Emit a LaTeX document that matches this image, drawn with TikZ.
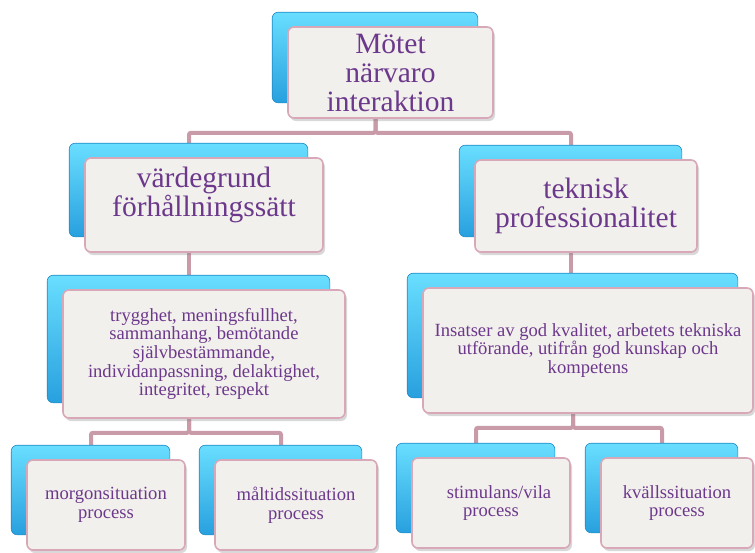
\documentclass[tikz,border=0pt]{standalone}
\usepackage{fontspec}
\setmainfont{Liberation Serif}
\newfontfamily\boxface{Liberation Serif}
\usepackage{tikz}
\usetikzlibrary{calc, positioning, shadows, backgrounds}
\definecolor{txtpurple}{RGB}{108,56,140}
\definecolor{boxfill}{RGB}{242,240,236}
\definecolor{boxline}{RGB}{216,168,185}
\definecolor{linkpink}{RGB}{201,154,168}
\definecolor{bluetop}{RGB}{105,222,255}
\definecolor{bluemid}{RGB}{60,194,246}
\definecolor{bluebot}{RGB}{40,160,222}
\definecolor{blueedge}{RGB}{32,140,200}
\tikzstyle{link} = [draw=linkpink, line width=4pt, rounded corners=2pt]

\begin{document}
\begin{tikzpicture}[x=1pt,y=1pt,
item/.style={rectangle,rounded corners=6pt,draw=boxline,line width=1.6pt,fill=boxfill,
 text=txtpurple,align=center,inner sep=2pt,
 drop shadow={opacity=0.3,shadow xshift=2pt,shadow yshift=-3pt}},
big/.style={item,font=\boxface\fontsize{29.5}{29}\selectfont},
small/.style={item,font=\boxface\fontsize{18.6}{18.6}\selectfont},
back/.style={rounded corners=6pt,draw=blueedge,line width=0.6pt,
 top color=bluetop,middle color=bluemid,bottom color=bluebot}]
 \useasboundingbox (0,0) rectangle (755,-552);
 % top
 \node[big,minimum width=205pt,minimum height=91pt] (T) at (390.5,-72.5) {Mötet\\närvaro\\interaktion};
 % second row
 \node[big,minimum width=238pt,minimum height=94pt,text depth=26pt] (L1) at (204,-205) {värdegrund\\förhållningssätt};
 \node[big,minimum width=222pt,minimum height=92pt] (R1) at (586,-206) {teknisk\\professionalitet};
 % third row
 \node[small,minimum width=282pt,minimum height=128pt] (L2) at (204,-354)
 {trygghet, meningsfullhet,\\sammanhang, bemötande\\självbestämmande,\\individanpassning, delaktighet,\\integritet, respekt};
 \node[small,minimum width=330pt,minimum height=125pt] (R2) at (588,-350.5)
 {Insatser av god kvalitet, arbetets tekniska\\utförande, utifrån god kunskap och\\kompetens};
 % bottom row
 \node[small,minimum width=158pt,minimum height=90pt] (L3a) at (106,-505) {morgonsituation\\process};
 \node[small,minimum width=162pt,minimum height=90pt] (L3b) at (296,-505) {måltidssituation\\process};
 \node[small,minimum width=158pt,minimum height=90pt] (R3a) at (491,-503) {\hspace*{16pt}stimulans/vila\\process};
 \node[small,minimum width=152pt,minimum height=90pt] (R3b) at (677,-503) {kvällssituation\\process};
 \begin{scope}[on background layer]
 \fill[white] (0,0) rectangle (755,-552);
 \foreach \P/\C in {T/L1,T/R1,L2/L3a,L2/L3b,R2/R3a,R2/R3b}
 \draw[link] ([xshift=-15pt]\P.south) -- ++(0,-14) -| ([xshift=-15pt]\C.north);
 \draw[link] ([xshift=-15pt]L1.south) -- ([xshift=-15pt]L1.south |- L2.north);
 \draw[link] ([xshift=-15pt]R1.south) -- ([xshift=-15pt]R1.south |- R2.north);
 \foreach \X in {T,L1,R1,L2,R2,L3a,L3b,R3a,R3b}
 \draw[back] ($(\X.north west)+(-15,14)$) rectangle ($(\X.south east)+(-16,16)$);
 \end{scope}
\end{tikzpicture}
\end{document}
